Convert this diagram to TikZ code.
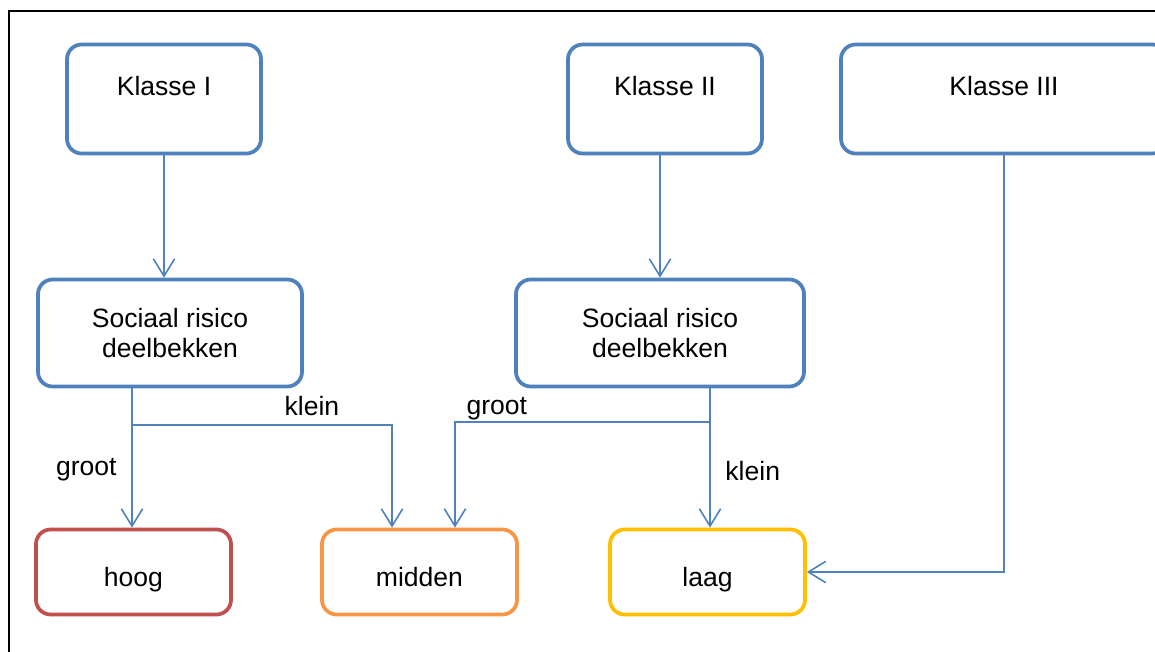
\documentclass[tikz,border=0pt]{standalone}
\usepackage{fontspec}
\setmainfont{Liberation Sans}
\usetikzlibrary{arrows.meta}

\definecolor{boxblue}{HTML}{4F81BD}
\definecolor{hoogrood}{HTML}{C0504D}
\definecolor{middenoranje}{HTML}{F79646}
\definecolor{laaggeel}{HTML}{FFC000}

\tikzset{
    box/.style={draw=boxblue, line width=2.8pt, rounded corners=11pt, fill=white,
        inner sep=0pt, align=center, font=\fontsize{19.9}{22.5}\selectfont},
    klasse/.style={box, minimum width=145.5pt, minimum height=81.75pt,
        text height=38.6pt, text depth=43.1pt},
    risico/.style={box, minimum width=198pt, minimum height=80.25pt},
    uitkomst/.style={box, minimum width=146.25pt, minimum height=63.75pt,
        text height=42.4pt, text depth=21.4pt},
    tak/.style={draw=boxblue, line width=1.2pt},
    pijl/.style={tak, -{Straight Barb[length=13pt,width=16pt]}},
    lbl/.style={inner sep=0pt, font=\fontsize{19.9}{22.5}\selectfont}
}

\begin{document}
\begin{tikzpicture}[x=0.75pt, y=-0.75pt]

    \useasboundingbox (0,0) rectangle (1155,652);
    \clip (0,0) rectangle (1155,652);
    \draw[line width=1.5pt] (9,680) -- (9,11) -- (1180,11);

    % klassen
    \node[klasse] (k1) at (164,99) {Klasse I};
    \node[klasse] (k2) at (665,99) {Klasse II};
    \node[klasse, minimum width=244.5pt] (k3) at (1004,99) {Klasse III};

    % sociaal risico
    \node[risico] (s1) at (170,333) {Sociaal risico\\deelbekken};
    \node[risico, minimum width=216pt] (s2) at (660,333) {Sociaal risico\\deelbekken};

    % uitkomst
    \node[uitkomst, draw=hoogrood] (hoog) at (133.5,572) {hoog};
    \node[uitkomst, draw=middenoranje] (midden) at (419.5,572) {midden};
    \node[uitkomst, draw=laaggeel] (laag) at (707.5,572) {laag};

    \coordinate (v1) at (132,425);
    \coordinate (v2) at (710,422);

    \draw[pijl] (k1.south) -- (k1.south |- s1.north);
    \draw[pijl] (s2.north |- k2.south) -- (s2.north);

    \draw[tak] (s1.south -| v1) -- (v1);
    \draw[pijl] (v1) -- node[lbl, left=11pt, pos=0.44] {groot} (v1 |- hoog.north);
    \draw[pijl] (v1) -| node[lbl, above=6pt, pos=0.346] {klein} ([xshift=-20.6pt]midden.north);

    \draw[tak] (s2.south -| v2) -- (v2);
    \draw[pijl] (v2) -- node[lbl, right=11pt, pos=0.46] {klein} (v2 |- laag.north);
    \draw[pijl] (v2) -| node[lbl, above=1pt, pos=0.418] {groot} ([xshift=26.6pt]midden.north);

    \draw[pijl] (k3.south) |- (laag.east);

\end{tikzpicture}
\end{document}
